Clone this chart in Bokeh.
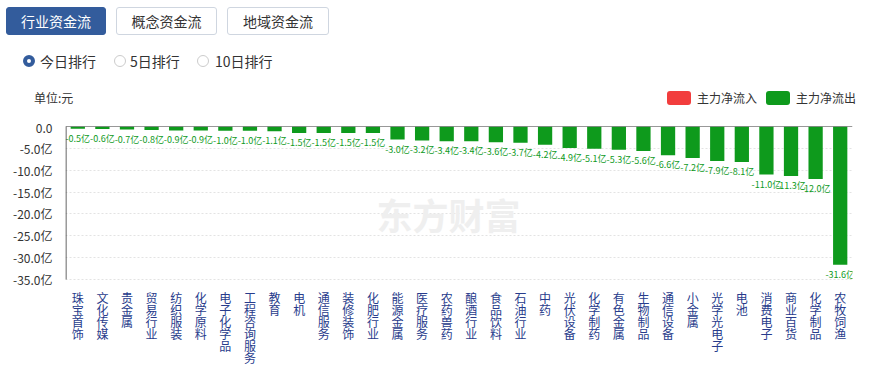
from bokeh.plotting import figure
from bokeh.layouts import column
from bokeh.models import Range1d, FactorRange, FixedTicker, Span, Label, Div, ColumnDataSource
from bokeh.core.properties import value
from bokeh.embed import file_html
from bokeh.resources import INLINE

FONT = "Noto Sans CJK SC"

categories = ["珠宝首饰", "文化传媒", "贵金属", "贸易行业", "纺织服装", "化学原料", "电子化学品",
              "工程咨询服务", "教育", "电机", "通信服务", "装修装饰", "化肥行业", "能源金属",
              "医疗服务", "农药兽药", "酿酒行业", "食品饮料", "石油行业", "中药", "光伏设备",
              "化学制药", "有色金属", "生物制品", "通信设备", "小金属", "光学光电子", "电池",
              "消费电子", "商业百货", "化学制品", "农牧饲渔"]
values = [-0.5, -0.6, -0.7, -0.8, -0.9, -0.9, -1.0, -1.0, -1.1, -1.5, -1.5, -1.5, -1.5,
          -3.0, -3.2, -3.4, -3.4, -3.6, -3.7, -4.2, -4.9, -5.1, -5.3, -5.6, -6.6, -7.2,
          -7.9, -8.1, -11.0, -11.3, -12.0, -31.6]
bar_labels = ["%.1f亿" % v for v in values]
y_ticks = [0, -5, -10, -15, -20, -25, -30, -35]
y_tick_labels = ["0.0"] + ["%.1f亿" % t for t in y_ticks[1:]]

tabs = ["行业资金流", "概念资金流", "地域资金流"]
radios = ["今日排行", "5日排行", "10日排行"]
legend_items = ["主力净流入", "主力净流出"]
unit_text = "单位:元"
watermark = "东方财富"

GREEN = "#0e9a1c"
RED = "#f23d3d"
BLUE = "#335c9c"
TEXT = "#333333"
XLABEL = "#283c8c"

# ---------------- header (HTML) ----------------
HEAD_H = 118
parts = ['<div style="position:relative;width:873px;height:%dpx;'
         "font-family:'%s',sans-serif;color:%s;\">" % (HEAD_H, FONT, TEXT)]
tab_lefts = [6, 116, 227]
tab_widths = [100, 101, 102]
for k, (l, w) in enumerate(zip(tab_lefts, tab_widths)):
    sel = k == 0
    parts.append(
        '<div style="position:absolute;left:%dpx;top:7px;width:%dpx;height:28px;'
        'box-sizing:border-box;border:1px solid %s;border-radius:3px;background:%s;'
        'color:%s;font-size:14px;line-height:26px;text-align:center;">%s</div>'
        % (l, w, BLUE if sel else "#cfd6e0", BLUE if sel else "white",
           "white" if sel else TEXT, tabs[k]))
radio_lefts = [23, 114, 197]
radio_text_lefts = [40, 130, 215]
for k, (l, tl) in enumerate(zip(radio_lefts, radio_text_lefts)):
    sel = k == 0
    parts.append(
        '<div style="position:absolute;left:%dpx;top:55px;width:12px;height:12px;'
        'box-sizing:border-box;border-radius:50%%;border:%s;background:white;"></div>'
        % (l, ("4px solid " + BLUE) if sel else "1px solid #cccccc"))
    parts.append(
        '<div style="position:absolute;left:%dpx;top:51px;height:20px;line-height:20px;'
        'font-size:14px;white-space:nowrap;">%s</div>' % (tl, radios[k]))
parts.append('<div style="position:absolute;left:34px;top:90px;line-height:16px;'
             'font-size:12px;white-space:nowrap;">%s</div>' % unit_text)
leg_lefts = [667, 766]
leg_colors = [RED, GREEN]
for k, l in enumerate(leg_lefts):
    parts.append('<div style="position:absolute;left:%dpx;top:91px;width:24px;height:14px;'
                 'border-radius:3px;background:%s;"></div>' % (l, leg_colors[k]))
    parts.append('<div style="position:absolute;left:%dpx;top:90px;line-height:16px;'
                 'font-size:12px;white-space:nowrap;">%s</div>' % (l + 30, legend_items[k]))
parts.append("</div>")
header = Div(text="".join(parts), width=873, height=HEAD_H, margin=0)

# ---------------- chart ----------------
W, H = 873, 366 - HEAD_H
BL, BR, BT, BB = 65, 21, 8, 0
N = len(categories)
PX_PER_UNIT = 153 / 35.0           # 0 .. -35 spans 153 px
FH = H - BT - BB
YMIN = -FH / PX_PER_UNIT
FW = W - BL - BR


def dy(page_y):
    return -(page_y - (HEAD_H + BT)) / PX_PER_UNIT


def dx(page_x):
    return (page_x - BL) / (FW / N)


p = figure(width=W, height=H, x_range=FactorRange(*categories),
           y_range=Range1d(YMIN, 0), output_backend="svg", toolbar_location=None,
           min_border_left=BL, min_border_right=BR, min_border_top=BT,
           min_border_bottom=BB, margin=0)
p.outline_line_color = None
p.xgrid.visible = False
p.ygrid.grid_line_color = "#e3e3e3"
p.ygrid.grid_line_dash = "2 2"
p.ygrid.ticker = FixedTicker(ticks=y_ticks)
p.xaxis.visible = False

# watermark
p.add_layout(Label(x=dx(376), y=dy(213), text=watermark, text_font=FONT,
                   text_font_size="36px", text_font_style="bold", text_color="#efefef",
                   text_baseline="middle", text_align="left"))

p.vbar(x=categories, top=values, bottom=0, width=0.58, fill_color=GREEN, line_color=None)
p.text(x=categories, y=values, text=bar_labels, text_align="center", text_baseline="top",
       y_offset=3, text_font=value(FONT), text_font_size="9px", text_color=GREEN)

p.add_layout(Span(location=0, dimension="width", line_color="#333333", line_width=1))

p.yaxis.ticker = FixedTicker(ticks=y_ticks)
p.yaxis.major_label_overrides = {t: s for t, s in zip(y_ticks, y_tick_labels)}
p.yaxis.major_tick_line_color = None
p.yaxis.minor_tick_line_color = None
p.yaxis.axis_line_color = None
p.yaxis.major_label_text_font = FONT
p.yaxis.major_label_text_font_size = "12px"
p.yaxis.major_label_text_color = TEXT
p.yaxis.major_label_standoff = 7

# visible y axis line from 0 down to -35
p.segment(x0=[0.02], y0=[0], x1=[0.02], y1=[y_ticks[-1]], line_color="#333333",
          line_width=1)

# vertical stacked category labels
lab_x, lab_y, lab_t = [], [], []
for c in categories:
    for j, ch in enumerate(c):
        lab_x.append(c)
        lab_y.append(dy(288 + 12 * j))
        lab_t.append(ch)
p.text(x="x", y="y", text="t", source=ColumnDataSource(dict(x=lab_x, y=lab_y, t=lab_t)),
       text_align="center", text_baseline="top", text_font=value(FONT),
       text_font_size="12px", text_color=XLABEL)

layout = column(header, p, spacing=0)
open("out.html", "w").write(file_html(layout, INLINE))
